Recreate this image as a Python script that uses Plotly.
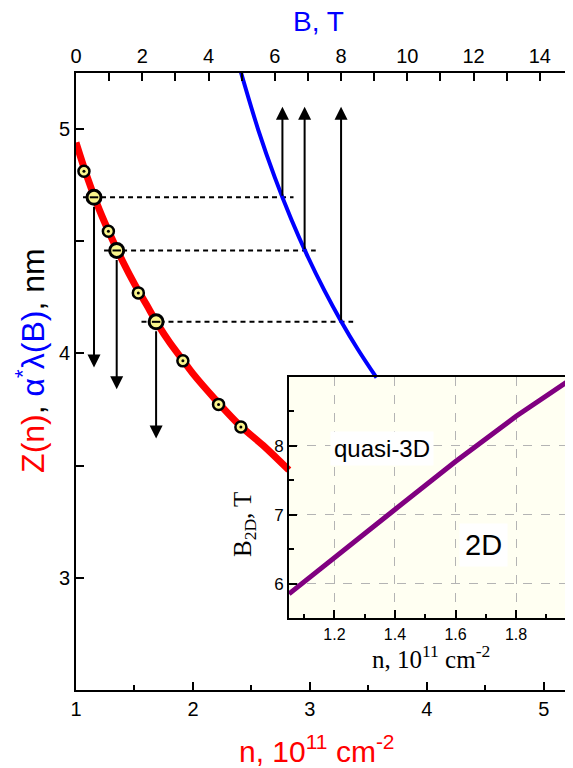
import plotly.graph_objects as go

# ---------------- data ----------------
# Red curve Z(n): n in 1e11 cm^-2, Z in nm
n_curve = [1.0, 1.1, 1.2, 1.3, 1.4, 1.5, 1.6, 1.7, 1.8, 1.9, 2.0, 2.2, 2.4, 2.6, 2.82]
z_curve = [4.94, 4.78, 4.64, 4.52, 4.41, 4.31, 4.22, 4.13, 4.05, 3.98, 3.91, 3.79, 3.68, 3.59, 3.48]

# Small measured points
n_small = [1.068, 1.277, 1.533, 1.914, 2.219, 2.410]
z_small = [4.812, 4.545, 4.270, 3.967, 3.773, 3.672]

# Large highlighted points
n_big = [1.154, 1.348, 1.685]
z_big = [4.696, 4.459, 4.141]

# Down-arrow tips below the highlighted points
z_down_tip = [3.937, 3.840, 3.621]

# Dashed guide lines (n units)
dash_n_start = [1.06, 1.24, 1.56]
dash_n_end = [2.86, 3.05, 3.37]

# Blue curve alpha*lambda(B): B in T
b_curve = [4.98, 5.5, 6.0, 6.5, 7.0, 7.5, 8.0, 8.5, 9.07]
lam_curve = [5.252, 4.997, 4.785, 4.597, 4.430, 4.280, 4.144, 4.020, 3.892]

# Up arrows from the blue curve
b_up = [6.23, 6.90, 8.00]
up_tip = 5.10

# Inset: B_2D(n)
n_inset = [1.05, 1.2, 1.4, 1.6, 1.8, 1.99]
b2d_inset = [5.854, 6.387, 7.077, 7.771, 8.427, 8.99]

SANS = "Liberation Sans, Arial, sans-serif"
SERIF = "Liberation Serif, Times New Roman, serif"
YELLOW = "#FAF58C"

fig = go.Figure()

fig.add_trace(go.Scatter(x=n_curve, y=z_curve, mode="lines", xaxis="x", yaxis="y",
                         line=dict(color="#FF0000", width=7, shape="spline"), showlegend=False))
fig.add_trace(go.Scatter(x=b_curve, y=lam_curve, mode="lines", xaxis="x2", yaxis="y",
                         line=dict(color="#0000FF", width=4, shape="spline"), showlegend=False))
fig.add_trace(go.Scatter(x=n_small, y=z_small, mode="markers", xaxis="x", yaxis="y",
                         marker=dict(size=11, color=YELLOW, line=dict(color="black", width=2.5)),
                         showlegend=False))
fig.add_trace(go.Scatter(x=n_small, y=z_small, mode="markers", xaxis="x", yaxis="y",
                         marker=dict(size=3, color="black"), showlegend=False))
fig.add_trace(go.Scatter(x=n_big, y=z_big, mode="markers", xaxis="x", yaxis="y",
                         marker=dict(size=14, color=YELLOW, line=dict(color="black", width=3)),
                         showlegend=False))
fig.add_trace(go.Scatter(x=n_big, y=z_big, mode="markers", xaxis="x", yaxis="y",
                         marker=dict(size=6, symbol="line-ew", color="black",
                                     line=dict(color="black", width=2)), showlegend=False))
fig.add_trace(go.Scatter(x=n_inset, y=b2d_inset, mode="lines", xaxis="x3", yaxis="y3",
                         line=dict(color="#800080", width=5), showlegend=False))

shapes = []
# inset background
shapes.append(dict(type="rect", xref="x3 domain", yref="y3 domain", x0=0, x1=1, y0=0, y1=1,
                   fillcolor="#FFFFF2", line=dict(width=0), layer="below"))
for i in range(3):
    shapes.append(dict(type="line", xref="x", yref="y", x0=dash_n_start[i], x1=dash_n_end[i],
                       y0=z_big[i], y1=z_big[i], line=dict(color="black", width=2, dash="5px,4px"),
                       layer="below"))

annotations = []
for i in range(3):
    annotations.append(dict(xref="x2", yref="y", axref="x2", ayref="y", x=b_up[i], y=up_tip,
                            ax=b_up[i], ay=z_big[i], text="", showarrow=True, arrowhead=2,
                            arrowsize=1.3, arrowwidth=2, arrowcolor="black"))
    annotations.append(dict(xref="x", yref="y", axref="x", ayref="y", x=n_big[i], y=z_down_tip[i],
                            ax=n_big[i], ay=z_big[i], text="", showarrow=True, arrowhead=2,
                            arrowsize=1.3, arrowwidth=2, arrowcolor="black", startstandoff=8))

annotations += [
    dict(xref="paper", yref="paper", x=0.487, y=1.083, text="B, T", showarrow=False,
         font=dict(family=SANS, size=28, color="#0000FF"), xanchor="center", yanchor="middle"),
    dict(xref="paper", yref="paper", x=0.484, y=-0.0956,
         text="n, 10<sup>11</sup> cm<sup>-2</sup>", showarrow=False,
         font=dict(family=SANS, size=30, color="#FF0000"), xanchor="center", yanchor="middle"),
    dict(xref="paper", yref="paper", x=-0.0926, y=0.535, textangle=-90,
         text='<span style="color:#FF0000">Z(n)</span>, '
              '<span style="color:#0000FF">α<sup>*</sup>λ(B)</span>, nm',
         showarrow=False, font=dict(family=SANS, size=32, color="black"),
         xanchor="center", yanchor="middle"),
    dict(xref="paper", yref="paper", x=0.338, y=0.269, textangle=-90,
         text="B<sub>2D</sub>, T", showarrow=False,
         font=dict(family=SERIF, size=25, color="black"), xanchor="center", yanchor="middle"),
    dict(xref="paper", yref="paper", x=0.714, y=0.0535,
         text="n, 10<sup>11</sup> cm<sup>-2</sup>", showarrow=False,
         font=dict(family=SERIF, size=25, color="black"), xanchor="center", yanchor="middle"),
    dict(xref="x3", yref="y3", x=1.358, y=7.956, text="quasi-3D", showarrow=False,
         font=dict(family=SANS, size=24, color="black"), bgcolor="white", borderpad=3),
    dict(xref="x3", yref="y3", x=1.691, y=6.56, text="2D", showarrow=False,
         font=dict(family=SANS, size=29, color="black"), bgcolor="white", borderpad=5),
]

axis_common = dict(showline=True, linecolor="black", linewidth=2, ticks="inside",
                   tickcolor="black", tickwidth=2, showgrid=False, zeroline=False)

# The page body adds an 8px offset, so the figure is made 8px smaller on the top/left.
fig.update_layout(
    width=565, height=760,
    margin=dict(l=68, r=0, t=65, b=78),
    paper_bgcolor="white", plot_bgcolor="rgba(0,0,0,0)",
    font=dict(family=SANS, color="black"),
    shapes=shapes, annotations=annotations, showlegend=False,
    xaxis=dict(**axis_common, range=[1, 5.25], tickvals=[1, 2, 3, 4, 5], ticklen=8,
               tickfont=dict(size=20), domain=[0, 1], anchor="y", automargin=False,
               minor=dict(ticks="inside", dtick=0.5, tick0=1, ticklen=5, tickwidth=2, tickcolor="black")),
    xaxis2=dict(**axis_common, range=[0, 15], tickvals=[0, 2, 4, 6, 8, 10, 12, 14], ticklen=8,
                tickfont=dict(size=20), overlaying="x", side="top", anchor="y", automargin=False,
                minor=dict(ticks="inside", dtick=1, tick0=0, ticklen=8, tickwidth=2, tickcolor="black")),
    yaxis=dict(**axis_common, range=[2.5, 5.25], tickvals=[3, 4, 5], ticklen=8,
               tickfont=dict(size=20), domain=[0, 1], anchor="x", automargin=False,
               minor=dict(ticks="inside", dtick=0.5, tick0=2.5, ticklen=8, tickwidth=2, tickcolor="black")),
    xaxis3=dict(showline=True, linecolor="black", linewidth=2, mirror=True, ticks="inside",
                tickcolor="black", tickwidth=2, ticklen=8, zeroline=False, automargin=False,
                range=[1.05, 1.988], tickvals=[1.2, 1.4, 1.6, 1.8], ticktext=["1.2", "1.4", "1.6", "1.8"],
                tickfont=dict(size=16), domain=[0.4286, 1.0], anchor="y3",
                showgrid=True, gridcolor="#B4B4B4", gridwidth=1, griddash="dash",
                minor=dict(ticks="inside", dtick=0.2, tick0=1.1, ticklen=4, tickwidth=2, tickcolor="black")),
    yaxis3=dict(showline=True, linecolor="black", linewidth=2, mirror=True, ticks="inside",
                tickcolor="black", tickwidth=2, ticklen=8, zeroline=False, automargin=False,
                range=[5.5, 9.0], tickvals=[6, 7, 8], tickfont=dict(size=17),
                domain=[0.1162, 0.5078], anchor="x3",
                showgrid=True, gridcolor="#B4B4B4", gridwidth=1, griddash="dash",
                minor=dict(ticks="inside", dtick=0.5, tick0=5.5, ticklen=5, tickwidth=2, tickcolor="black")),
)

fig.write_html("out.html")
